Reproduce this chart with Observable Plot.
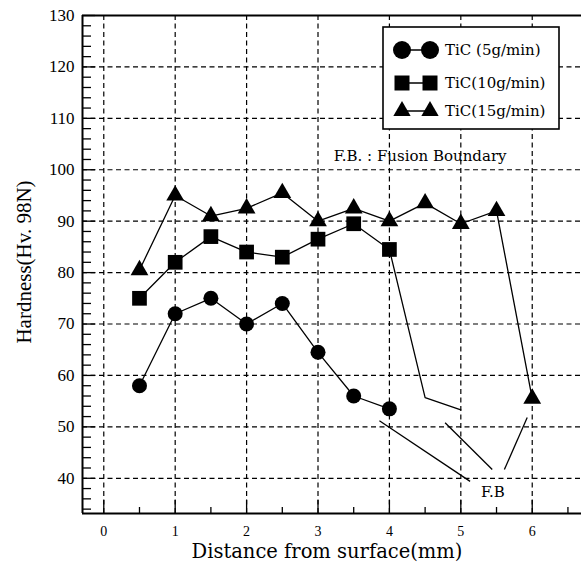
<!DOCTYPE html>
<html><head><meta charset="utf-8">
<script src="https://cdn.jsdelivr.net/npm/d3@7"></script>
<script src="https://cdn.jsdelivr.net/npm/@observablehq/plot@0.6"></script>
<style>
body{margin:0;background:#fff}
#chart g[aria-label$="tick label"]{font-family:'Liberation Serif','Times New Roman',serif}
</style>
</head><body><div id="chart"></div>
<script>
// ---- data ----
const xDist = [0.5, 1, 1.5, 2, 2.5, 3, 3.5, 4];
const tic5 = [58, 72, 75, 70, 74, 64.5, 56, 53.5];
const tic10 = [75, 82, 87, 84, 83, 86.5, 89.5, 84.5];
const tic10BoundaryX = [4, 4.5, 5];
const tic10BoundaryY = [84.5, 55.7, 53.3];
const xDist15 = [0.5, 1, 1.5, 2, 2.5, 3, 3.5, 4, 4.5, 5, 5.5, 6];
const tic15 = [80.5, 95, 91, 92.5, 95.5, 90, 92.5, 90, 93.5, 89.5, 92, 55.5];
const fbLeaderX1 = [3.86, 4.78, 5.61];
const fbLeaderY1 = [51.2, 50.8, 41.7];
const fbLeaderX2 = [5.13, 5.44, 5.93];
const fbLeaderY2 = [39.4, 41.7, 51.8];
const xTicks = [0, 1, 2, 3, 4, 5, 6];
const xMinorTicks = [0.5, 1.5, 2.5, 3.5, 4.5, 5.5, 6.5];
const yTicks = [40, 50, 60, 70, 80, 90, 100, 110, 120, 130];
const yGrid = [40, 50, 60, 70, 80, 90, 100, 110, 120];
const yMinorTicks = d3.range(34, 130, 2).filter(v => v % 10 !== 0);
const seriesNames = ["TiC (5g/min)", "TiC(10g/min)", "TiC(15g/min)"];
const xLabel = "Distance from surface(mm)";
const yLabel = "Hardness(Hv. 98N)";
const fbNote = "F.B. : Fusion Boundary";
const fbLabel = "F.B";

// ---- tables ----
const rows5 = xDist.map((x, i) => ({x, y: tic5[i]}));
const rows10 = xDist.map((x, i) => ({x, y: tic10[i]}));
const rows10b = tic10BoundaryX.map((x, i) => ({x, y: tic10BoundaryY[i]}));
const rows15 = xDist15.map((x, i) => ({x, y: tic15[i]}));
const leaders = fbLeaderX1.map((x1, i) => ({x1, y1: fbLeaderY1[i], x2: fbLeaderX2[i], y2: fbLeaderY2[i]}));

const SERIF = "'Liberation Serif', 'Times New Roman', serif";
const WIDE = "'DejaVu Serif', 'Liberation Serif', serif";
const W = 581, H = 567;
const dash = "5,3.5";
const chart = Plot.plot({
  width: W, height: H,
  marginLeft: 82, marginRight: 0, marginTop: 15, marginBottom: 54,
  x: {domain: [-0.298, 6.69], label: null},
  y: {domain: [33.15, 130], label: null},
  style: {fontFamily: SERIF, background: "white", color: "black"},
  marks: [
    Plot.ruleX(xTicks, {stroke: "black", strokeWidth: 1.2, strokeDasharray: dash}),
    Plot.ruleY(yGrid, {stroke: "black", strokeWidth: 1.2, strokeDasharray: dash}),
    Plot.axisY(yMinorTicks, {tickSize: -9, tickFormat: () => "", strokeWidth: 1.3, label: null}),
    Plot.axisY(yTicks, {tickSize: -13, tickFormat: () => "", strokeWidth: 1.3, label: null}),
    Plot.axisY(yTicks, {tickSize: 0, tickPadding: 8, fontSize: 17, fontFamily: SERIF, label: null}),
    Plot.axisX(xMinorTicks, {tickSize: -6, tickFormat: () => "", strokeWidth: 1.3, label: null}),
    Plot.axisX(xTicks, {tickSize: -13, tickFormat: () => "", strokeWidth: 1.3, label: null}),
    Plot.axisX(xTicks, {tickSize: 0, tickPadding: 13, fontSize: 14, fontFamily: SERIF, label: null}),
    Plot.ruleX([-0.298], {stroke: "black", strokeWidth: 2}),
    Plot.ruleY([33.15], {stroke: "black", strokeWidth: 2}),
    Plot.ruleY([130], {stroke: "black", strokeWidth: 2}),
    Plot.line(rows5, {x: "x", y: "y", stroke: "black", strokeWidth: 1.3}),
    Plot.line(rows10, {x: "x", y: "y", stroke: "black", strokeWidth: 1.3}),
    Plot.line(rows10b, {x: "x", y: "y", stroke: "black", strokeWidth: 1.3}),
    Plot.line(rows15, {x: "x", y: "y", stroke: "black", strokeWidth: 1.3}),
    Plot.link(leaders, {x1: "x1", y1: "y1", x2: "x2", y2: "y2", stroke: "black", strokeWidth: 1.3}),
    Plot.dot(rows5, {x: "x", y: "y", r: 7.5, symbol: "circle", fill: "black"}),
    Plot.dot(rows10, {x: "x", y: "y", r: 8.3, symbol: "square", fill: "black"}),
    Plot.dot(rows15, {x: "x", y: "y", r: 6.6, symbol: "triangle", fill: "black"}),
    Plot.text([fbNote], {x: 3.22, y: 102.6, text: d => d, textAnchor: "start", fontFamily: WIDE, fontSize: 15, fill: "black"}),
    Plot.text([fbLabel], {x: 5.45, y: 37.2, text: d => d, fontFamily: WIDE, fontSize: 15, fill: "black"})
  ]
});

const svg = d3.select(chart);
// axis titles
svg.append("text").attr("x", 327).attr("y", 558).attr("text-anchor", "middle")
  .style("font-family", WIDE).style("font-size", "19.5px").attr("fill", "black").text(xLabel);
svg.append("text").attr("transform", "translate(31,262) rotate(-90)").attr("text-anchor", "middle")
  .style("font-family", SERIF).style("font-size", "21px").attr("fill", "black").text(yLabel);

// legend
const lg = svg.append("g");
lg.append("rect").attr("x", 383).attr("y", 27).attr("width", 176).attr("height", 102)
  .attr("fill", "white").attr("stroke", "black").attr("stroke-width", 1.6);
const rowsY = [50, 83, 111];
const syms = [[d3.symbolCircle, Math.PI * 9 * 9], [d3.symbolSquare, 225], [d3.symbolTriangle, 130]];
seriesNames.forEach((name, i) => {
  const y = rowsY[i];
  lg.append("line").attr("x1", 402).attr("x2", 430).attr("y1", y).attr("y2", y).attr("stroke", "black").attr("stroke-width", 1.5);
  [402, 430].forEach(cx => {
    lg.append("path").attr("transform", `translate(${cx},${y})`).attr("d", d3.symbol(syms[i][0], syms[i][1])()).attr("fill", "black");
  });
  lg.append("text").attr("x", 445).attr("y", y + 5).attr("text-anchor", "start")
    .style("font-family", WIDE).style("font-size", "15px").attr("fill", "black").text(name);
});

document.getElementById("chart").appendChild(chart);
</script>
</body></html>
